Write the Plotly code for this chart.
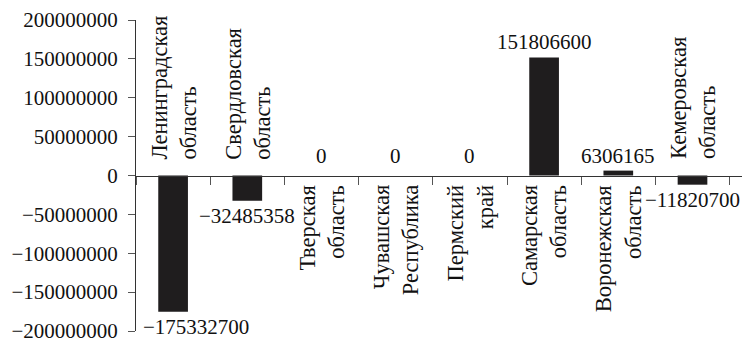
import plotly.graph_objects as go

categories = ["Ленинградская<br>область", "Свердловская<br>область", "Тверская<br>область",
              "Чувашская<br>Республика", "Пермский<br>край", "Самарская<br>область",
              "Воронежская<br>область", "Кемеровская<br>область"]
values = [-175332700, -32485358, 0, 0, 0, 151806600, 6306165, -11820700]
tick_vals = [200000000, 150000000, 100000000, 50000000, 0, -50000000, -100000000, -150000000, -200000000]
tick_text = ["200000000", "150000000", "100000000", "50000000", "0",
             "−50000000", "−100000000", "−150000000", "−200000000"]

FONT = "Liberation Serif"
fig = go.Figure()
fig.add_trace(go.Bar(x=categories, y=values, width=0.4,
                     marker=dict(color="#1f1d1e", line=dict(width=0))))

anns = []
for i, (c, v) in enumerate(zip(categories, values)):
    if v < 0:
        anns.append(dict(x=c, y=0, xref="x", yref="y", text=c, showarrow=False,
                         textangle=-90, yanchor="bottom", xanchor="center", align="left",
                         yshift=14, font=dict(family=FONT, size=22.5, color="#111")))
    else:
        anns.append(dict(x=c, y=0, xref="x", yref="y", text=c, showarrow=False,
                         textangle=-90, yanchor="top", xanchor="center", align="right",
                         yshift=-8, font=dict(family=FONT, size=22.5, color="#111")))
    txt = ("−" + str(abs(v))) if v < 0 else str(v)
    if v < 0:
        anns.append(dict(x=c, y=v, xref="x", yref="y", text=txt, showarrow=False,
                         yanchor="top", xanchor="center", yshift=-1,
                         xshift=23 if i == 0 else 0,
                         font=dict(family=FONT, size=21, color="#111")))
    elif v == 0:
        anns.append(dict(x=c, y=v, xref="x", yref="y", text=txt, showarrow=False,
                         yanchor="bottom", xanchor="center", yshift=6,
                         font=dict(family=FONT, size=21, color="#111")))
    else:
        anns.append(dict(x=c, y=v, xref="x", yref="y", text=txt, showarrow=False,
                         yanchor="bottom", xanchor="center", yshift=1,
                         font=dict(family=FONT, size=21, color="#111")))

fig.update_layout(
    width=748, height=339,
    margin=dict(l=136, r=6, t=20, b=8, autoexpand=False),
    paper_bgcolor="white", plot_bgcolor="white",
    showlegend=False,
    annotations=anns,
    xaxis=dict(type="category", showticklabels=False, showline=True, linecolor="#333",
               linewidth=1, ticks="outside", tickson="boundaries", ticklen=8,
               tickcolor="#555", anchor="free", position=0.5, showgrid=False,
               zeroline=False, automargin=False),
    yaxis=dict(range=[-200000000, 200000000], tickvals=tick_vals, ticktext=tick_text,
               showline=True, linecolor="#333", linewidth=1, ticks="outside", ticklen=7,
               tickcolor="#555", showgrid=False, zeroline=False, automargin=False,
               ticklabelstandoff=6, ticklabeloverflow="allow",
               tickfont=dict(family=FONT, size=21, color="#111")),
)
post = ("document.body.style.margin='0';document.body.style.padding='0';"
        "document.body.style.overflow='hidden';")
fig.write_html("out.html", post_script=post, config={"displayModeBar": False})
